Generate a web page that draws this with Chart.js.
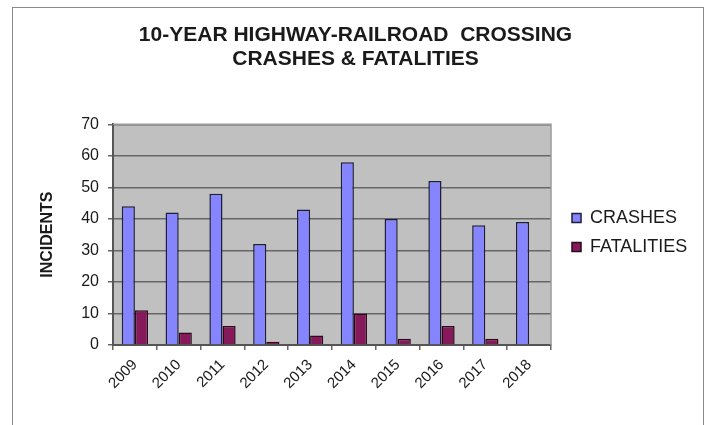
<!DOCTYPE html>
<html>
<head>
<meta charset="utf-8">
<title>Highway-Railroad Crossing Crashes</title>
<script src="https://cdn.jsdelivr.net/npm/chart.js@4.4.1/dist/chart.umd.min.js"></script>
<style>
    html, body { margin: 0; padding: 0; background: #fff; overflow: hidden; }
    #wrap { position: relative; width: 711px; height: 425px; }
    #frame {
        position: absolute; left: 12px; top: 7px; width: 692px; height: 418px;
        border: 1.5px solid #8a8a8a; border-bottom: none; box-sizing: border-box;
    }
    #crossingChart { position: absolute; left: 0; top: 0; }
</style>
</head>
<body>
<div id="wrap">
    <div id="frame"></div>
    <canvas id="crossingChart" width="711" height="425"></canvas>
</div>
<script>
// Datos por año
const years = ['2009', '2010', '2011', '2012', '2013', '2014', '2015', '2016', '2017', '2018'];
const crashes = [44, 42, 48, 32, 43, 58, 40, 52, 38, 39];
const fatalities = [11, 4, 6, 1, 3, 10, 2, 6, 2, 0];
const yTicks = [0, 10, 20, 30, 40, 50, 60, 70];

const FONT = 'Liberation Sans, Arial, sans-serif';
const TEXT = '#1a1a1a';

// Fondo gris del área de trazado + borde claro
const plotBackground = {
    id: 'plotBackground',
    beforeDraw(chart) {
        const { ctx, chartArea: a } = chart;
        ctx.save();
        ctx.fillStyle = '#c0c0c0';
        ctx.fillRect(a.left, a.top, a.right - a.left, a.bottom - a.top);
        ctx.restore();
    },
    afterDatasetsDraw(chart) {
        const { ctx, chartArea: a } = chart;
        ctx.save();
        ctx.strokeStyle = '#9a9a9a';
        ctx.lineWidth = 1.5;
        ctx.beginPath();
        ctx.moveTo(a.left, a.top);
        ctx.lineTo(a.right, a.top);
        ctx.lineTo(a.right, a.bottom);
        ctx.stroke();
        ctx.restore();
    }
};

// Ancho fijo de la leyenda y pequeño desplazamiento
const legendPlacement = {
    id: 'legendPlacement',
    beforeUpdate(chart) {
        const lg = chart.legend;
        if (lg && !lg._fixedFit) {
            const fit = lg.fit;
            lg.fit = function () {
                fit.call(this);
                this.width = 160;
            };
            lg._fixedFit = true;
        }
    },
    afterLayout(chart) {
        const lg = chart.legend;
        lg.left += 10; lg.right += 10;
        lg.top += 20; lg.bottom += 20;
    }
};

new Chart(document.getElementById('crossingChart'), {
    type: 'bar',
    data: {
        labels: years,
        datasets: [{
            label: 'CRASHES',
            data: crashes,
            backgroundColor: '#8585ff',
            borderColor: '#1e1e3a',
            borderWidth: 1.5,
            borderSkipped: 'start'
        }, {
            label: 'FATALITIES',
            data: fatalities,
            backgroundColor: '#86195a',
            borderColor: '#2a0a1c',
            borderWidth: 1.5,
            borderSkipped: 'start'
        }]
    },
    options: {
        responsive: false,
        animation: false,
        devicePixelRatio: 1,
        layout: { padding: 0 },
        datasets: { bar: { categoryPercentage: 0.6, barPercentage: 1.0 } },
        plugins: {
            title: {
                display: true,
                text: ['10-YEAR HIGHWAY-RAILROAD  CROSSING', 'CRASHES & FATALITIES'],
                color: TEXT,
                font: { family: FONT, size: 21, weight: 'bold', lineHeight: 1.15 },
                padding: { top: 23, bottom: 53 }
            },
            legend: {
                position: 'right',
                labels: {
                    color: TEXT,
                    font: { family: FONT, size: 18 },
                    boxWidth: 9,
                    boxHeight: 9,
                    padding: 11
                }
            },
            tooltip: { enabled: false }
        },
        scales: {
            x: {
                ticks: {
                    color: TEXT,
                    font: { family: FONT, size: 15 },
                    minRotation: 45,
                    maxRotation: 45,
                    autoSkip: false,
                    padding: 6
                },
                grid: { drawOnChartArea: false, tickLength: 5, color: '#666', lineWidth: 1.5 },
                border: { color: '#555', width: 2 },
                afterFit(scale) { scale.height = 80; }
            },
            y: {
                min: 0,
                max: 70,
                afterBuildTicks(scale) {
                    scale.ticks = yTicks.map(v => ({ value: v }));
                },
                ticks: {
                    color: TEXT,
                    font: { family: FONT, size: 16 },
                    padding: 9
                },
                grid: { color: '#666', lineWidth: 1.5, tickLength: 5 },
                border: { color: '#555', width: 2 },
                title: {
                    display: true,
                    text: 'INCIDENTS',
                    color: TEXT,
                    font: { family: FONT, size: 16, weight: 'bold' },
                    padding: { top: 38, bottom: 0 }
                },
                afterFit(scale) { scale.width = 113; }
            }
        }
    },
    plugins: [plotBackground, legendPlacement]
});
</script>
</body>
</html>
